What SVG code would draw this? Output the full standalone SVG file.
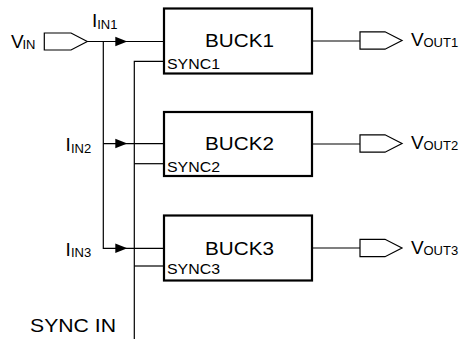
<svg xmlns="http://www.w3.org/2000/svg" width="460" height="339" viewBox="0 0 460 339">
<style>
  .box{fill:#fff;stroke:#000;stroke-width:2.2}
  .ln{fill:none;stroke:#000;stroke-width:1.2}
  .port{fill:#fff;stroke:#000;stroke-width:1.2}
  .t{font-family:"Liberation Sans",Arial,sans-serif;fill:#000}
  .big{font-size:19px}
  .sub{font-size:13px}
  .sm{font-size:14px}
</style>
<defs>
  <path id="arr" d="M-12,-4.7 L0,0 L-12,4.7 Z" fill="#000"/>
  <path id="outp" d="M0,-8.7 H25 L42,0 L25,8.7 H0 Z" class="port"/>
</defs>
<g id="connectors">
  <path class="ln" d="M87,41.5 H164"/>
  <path class="ln" d="M103.3,41.5 V248.3 H164"/>
  <path class="ln" d="M103.3,143.7 H164"/>
  <path class="ln" d="M134.3,339 V61.3 H164"/>
  <path class="ln" d="M134.3,163.7 H164"/>
  <path class="ln" d="M134.3,266 H164"/>
  <use href="#arr" x="127.3" y="41.5"/>
  <use href="#arr" x="127.3" y="143.5"/>
  <use href="#arr" x="127.3" y="248.3"/>
  <path class="ln" d="M312,41 H360"/>
  <path class="ln" d="M312,144 H360"/>
  <path class="ln" d="M312,248 H360"/>
</g>
<g id="vin">
  <path class="port" d="M44.3,33 H71 L87.3,41.5 L71,50 H44.3 Z"/>
  <text class="t big" x="11" y="47.5">V</text>
  <text class="t sub" x="22.5" y="49.3">IN</text>
</g>
<g id="iin1"><text class="t big" x="92" y="27">I</text><text class="t sub" x="97.2" y="28.5">IN1</text></g>
<g id="iin2"><text class="t big" x="65.5" y="151">I</text><text class="t sub" x="71" y="152.5">IN2</text></g>
<g id="iin3"><text class="t big" x="65.5" y="255.5">I</text><text class="t sub" x="71" y="257">IN3</text></g>
<g id="buck1">
  <rect class="box" x="164" y="8.5" width="148" height="65"/>
  <text class="t big" x="239.5" y="47.3" text-anchor="middle" textLength="69" lengthAdjust="spacingAndGlyphs">BUCK1</text>
  <text class="t sm" x="167" y="69.3" textLength="53" lengthAdjust="spacingAndGlyphs">SYNC1</text>
</g>
<g id="buck2">
  <rect class="box" x="164" y="112" width="148" height="64"/>
  <text class="t big" x="239.5" y="150.3" text-anchor="middle" textLength="69" lengthAdjust="spacingAndGlyphs">BUCK2</text>
  <text class="t sm" x="167" y="171.5" textLength="53" lengthAdjust="spacingAndGlyphs">SYNC2</text>
</g>
<g id="buck3">
  <rect class="box" x="164" y="215.5" width="148" height="65"/>
  <text class="t big" x="239.5" y="255" text-anchor="middle" textLength="69" lengthAdjust="spacingAndGlyphs">BUCK3</text>
  <text class="t sm" x="167" y="273.5" textLength="53" lengthAdjust="spacingAndGlyphs">SYNC3</text>
</g>
<g id="vout1"><use href="#outp" x="360" y="40.5"/><text class="t big" x="411" y="46.3">V</text><text class="t sub" x="423.5" y="47">OUT1</text></g>
<g id="vout2"><use href="#outp" x="360" y="143.5"/><text class="t big" x="411" y="149.3">V</text><text class="t sub" x="423.5" y="150">OUT2</text></g>
<g id="vout3"><use href="#outp" x="360" y="248"/><text class="t big" x="411" y="254.3">V</text><text class="t sub" x="423.5" y="255">OUT3</text></g>
<g id="syncin"><text class="t big" x="30" y="332.3" textLength="86" lengthAdjust="spacingAndGlyphs">SYNC IN</text></g>
</svg>
